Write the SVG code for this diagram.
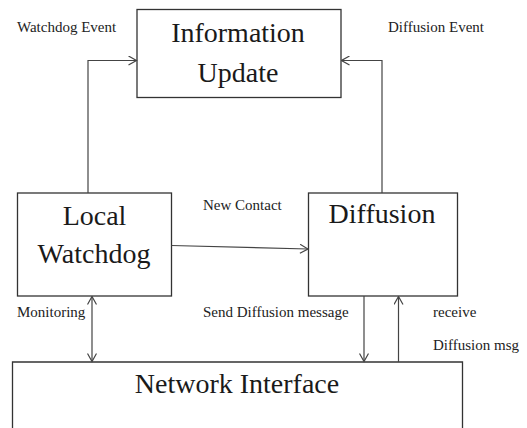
<svg xmlns="http://www.w3.org/2000/svg" width="527" height="428" viewBox="0 0 527 428">
<style>
.box{fill:#fff;stroke:#333;stroke-width:1.3}
.big{font-family:"Liberation Serif",serif;font-size:28px;fill:#1a1a1a;text-anchor:middle}
.lbl{font-family:"Liberation Serif",serif;font-size:15px;fill:#222}
.con{fill:none;stroke:#444;stroke-width:1.2}
</style>
<defs>
<marker id="ah" viewBox="0 0 10 10" refX="9" refY="5" markerWidth="10" markerHeight="10" markerUnits="userSpaceOnUse" orient="auto-start-reverse">
<path d="M1,0.5 L9,5 L1,9.5" fill="none" stroke="#444" stroke-width="1.2"/>
</marker>
</defs>
<rect width="527" height="428" fill="#fff"/>
<g id="info-update">
<rect class="box" x="137" y="9.5" width="204" height="88"/>
<text class="big" x="238" y="42">Information</text>
<text class="big" x="238" y="82">Update</text>
</g>
<g id="local-watchdog">
<rect class="box" x="17.5" y="193" width="154" height="103"/>
<text class="big" x="94.5" y="225">Local</text>
<text class="big" x="94" y="263">Watchdog</text>
</g>
<g id="diffusion">
<rect class="box" x="308.5" y="193" width="149" height="103"/>
<text class="big" x="382" y="223">Diffusion</text>
</g>
<g id="network-interface">
<path class="box" d="M12.5,432 L12.5,362 L462.5,362 L462.5,432"/>
<text class="big" x="237" y="393">Network Interface</text>
</g>
<g id="connectors">
<polyline class="con" points="88,193 88,60.5 136.5,60.5" marker-end="url(#ah)"/>
<polyline class="con" points="382,193 382,60.5 341.5,60.5" marker-end="url(#ah)"/>
<line class="con" x1="171.5" y1="245.5" x2="308" y2="249" marker-end="url(#ah)"/>
<line class="con" x1="92" y1="296.5" x2="92" y2="361.5" marker-start="url(#ah)" marker-end="url(#ah)"/>
<line class="con" x1="364" y1="296" x2="364" y2="361.5" marker-end="url(#ah)"/>
<line class="con" x1="398.5" y1="362" x2="398.5" y2="296.5" marker-end="url(#ah)"/>
</g>
<g id="labels">
<text class="lbl" x="17" y="32">Watchdog Event</text>
<text class="lbl" x="388" y="32">Diffusion Event</text>
<text class="lbl" x="203" y="210">New Contact</text>
<text class="lbl" x="17" y="317">Monitoring</text>
<text class="lbl" x="203" y="317">Send Diffusion message</text>
<text class="lbl" x="433" y="317">receive</text>
<text class="lbl" x="433" y="350">Diffusion msg</text>
</g>
</svg>
